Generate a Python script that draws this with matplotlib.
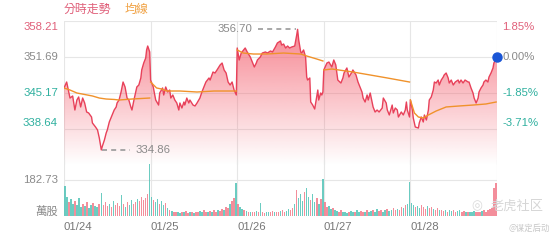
import numpy as np
import matplotlib.pyplot as plt
from matplotlib.patches import PathPatch

plt.rcParams['font.family'] = ['Liberation Sans', 'Noto Sans CJK TC']

# minutes since open and price, one pair of lists per trading day
t1 = [0, 12, 27, 39, 49, 58, 66, 75, 84, 93, 102, 111, 124, 128, 142, 151, 159, 168,
      173, 182, 190, 195, 204, 213, 217, 226, 235, 239, 248, 257, 266, 275, 279, 284,
      292, 301, 306, 315, 323, 328, 337, 346, 350, 359, 368, 372, 377, 386]
p1 = [346.08, 347.16, 344.26, 344.63, 342.09, 343.90, 344.45, 342.64, 344.26, 343.36,
      341.73, 341.55, 340.82, 339.74, 339.01, 338.47, 337.02, 334.86, 335.57, 336.66,
      337.93, 338.47, 339.92, 340.82, 341.19, 342.09, 342.64, 343.36, 343.90, 345.35,
      347.16, 346.26, 345.35, 344.26, 343.90, 342.64, 342.09, 343.90, 345.35, 346.26,
      346.62, 347.89, 349.34, 350.60, 351.51, 352.96, 353.68, 352.60]
t2 = [0, 12, 23, 36, 41, 54, 59, 68, 77, 86, 91, 100, 109, 118, 127, 132, 141, 150, 154,
      163, 172, 177, 191, 200, 209, 222, 231, 240, 249, 263, 268, 281, 290, 299, 313, 322,
      331, 340, 349, 358, 367, 376, 386]
p2 = [347.52, 346.26, 343.90, 342.99, 345.17, 346.08, 344.81, 346.26, 345.35, 345.71,
      344.26, 344.81, 343.90, 343.36, 342.09, 343.36, 342.45, 343.54, 342.99, 344.26,
      343.36, 343.90, 342.99, 342.82, 343.36, 344.26, 345.35, 346.26, 347.16, 347.89,
      347.52, 348.97, 348.79, 349.34, 350.24, 350.60, 349.34, 348.79, 347.16, 346.62,
      347.16, 345.71, 344.81]
t3 = [0, 9, 18, 36, 45, 59, 68, 77, 86, 91, 104, 113, 127, 136, 150, 159, 172, 181, 195,
      200, 209, 218, 227, 236, 245, 259, 268, 272, 277, 286, 290, 299, 308, 313, 317, 327,
      331, 340, 349, 358, 363, 367, 376, 381, 386]
p3 = [353.32, 351.15, 352.41, 353.32, 352.60, 351.69, 350.78, 349.88, 350.60, 351.15,
      351.69, 352.41, 352.60, 352.41, 352.78, 352.60, 353.50, 354.23, 354.59, 353.86,
      354.04, 353.32, 353.68, 353.32, 353.50, 353.68, 355.67, 356.70, 354.77, 352.60,
      352.41, 352.96, 351.69, 348.07, 347.52, 347.89, 343.54, 342.99, 342.27, 344.45,
      345.71, 343.90, 345.17, 344.81, 345.35]
t4 = [0, 14, 23, 36, 45, 54, 63, 77, 86, 91, 104, 113, 127, 131, 145, 154, 163, 172, 177,
      186, 195, 200, 209, 218, 222, 231, 240, 249, 263, 268, 281, 286, 295, 308, 313, 322,
      331, 336, 349, 358, 367, 372, 376, 386]
p4 = [349.34, 350.60, 350.78, 349.88, 351.15, 350.24, 347.52, 346.98, 347.89, 348.79,
      349.70, 348.07, 348.97, 349.34, 348.43, 347.16, 346.26, 345.35, 344.26, 343.54,
      344.81, 343.90, 345.17, 343.36, 342.64, 341.73, 342.09, 341.73, 342.45, 344.26,
      343.36, 342.09, 341.19, 342.99, 341.55, 342.45, 342.09, 340.82, 341.73, 341.19,
      342.09, 343.54, 342.09, 340.82]
t5 = [0, 9, 13, 22, 36, 40, 49, 58, 63, 72, 81, 85, 94, 103, 108, 116, 125, 130, 139, 148,
      152, 161, 170, 175, 184, 193, 202, 215, 220, 228, 237, 246, 260, 264, 273, 282, 287,
      296, 305, 309, 318, 327, 331, 340, 349, 354, 363, 372, 376, 390]
p5 = [343.90, 342.09, 340.64, 339.01, 338.83, 339.74, 340.82, 339.92, 341.19, 340.28,
      342.09, 343.90, 344.45, 345.71, 347.16, 346.98, 347.52, 346.62, 347.52, 348.07,
      348.43, 348.79, 347.89, 346.98, 347.52, 346.62, 347.16, 347.52, 346.98, 347.52,
      346.98, 347.52, 347.16, 347.16, 346.08, 345.17, 344.26, 343.36, 344.26, 345.35,
      346.08, 346.62, 347.16, 347.52, 347.16, 348.07, 348.79, 349.70, 350.60, 351.69]

# average price line per day
at1 = [0, 27, 58, 93, 128, 159, 190, 226, 248, 306, 346, 386]
ap1 = [346.08, 345.71, 345.17, 344.90, 344.63, 344.26, 344.08, 344.00, 343.90, 344.08, 344.17, 344.26]
at2 = [0, 27, 50, 73, 132, 209, 286, 386]
ap2 = [347.16, 346.08, 345.89, 345.53, 345.53, 345.35, 345.53, 345.53]
at3 = [0, 27, 73, 132, 209, 286, 313, 358, 386]
ap3 = [352.96, 352.41, 352.23, 352.23, 352.41, 352.23, 351.87, 351.33, 350.97]
at4 = [0, 36, 131, 209, 286, 386]
ap4 = [349.34, 349.52, 348.97, 348.43, 347.89, 347.16]
at5 = [0, 18, 36, 58, 81, 116, 161, 220, 282, 340, 386]
ap5 = [343.90, 341.55, 340.82, 340.64, 341.19, 341.91, 342.64, 342.82, 342.99, 343.18, 343.54]

# volume (萬股), 43 bars per day, u = up bar, d = down bar
v1 = [150, 95, 70, 85, 60, 75, 55, 90, 45, 60, 50, 70, 40, 55, 65, 50, 45, 60, 115, 55, 70, 50,
      60, 45, 75, 55, 65, 50, 105, 60, 45, 70, 55, 80, 60, 70, 85, 75, 95, 80, 90, 110, 265]
v2 = [95, 80, 70, 85, 60, 75, 55, 65, 40, 30, 25, 20, 18, 22, 15, 20, 18, 25, 15, 18, 22, 15,
      20, 18, 25, 20, 30, 22, 18, 25, 20, 28, 22, 30, 25, 35, 30, 45, 40, 60, 75, 90, 168]
v3 = [60, 45, 35, 30, 25, 20, 18, 22, 20, 25, 18, 66, 20, 15, 18, 22, 20, 25, 18, 20, 22, 25,
      30, 20, 25, 35, 30, 40, 60, 130, 90, 110, 75, 120, 142, 95, 80, 110, 70, 90, 60, 85, 188]
v4 = [70, 45, 50, 35, 40, 30, 25, 20, 28, 18, 22, 15, 20, 25, 18, 22, 30, 20, 25, 18, 22, 28,
      20, 25, 30, 22, 35, 25, 30, 22, 28, 35, 25, 30, 40, 28, 35, 30, 45, 40, 55, 60, 172]
v5 = [65, 55, 45, 50, 40, 55, 45, 35, 50, 40, 45, 35, 30, 40, 28, 32, 25, 30, 22, 28, 25, 30,
      22, 25, 28, 20, 25, 22, 18, 22, 20, 25, 18, 22, 20, 25, 30, 22, 28, 35, 40, 140, 168]
s1 = "dduddudddu" "dudduddudu" "uududuuudu" "dudduuduuu" "uud"
s2 = "dudduddudu" "duudduduud" "uduudduudu" "duuduuduud" "uud"
s3 = "uddududuud" "uduudduudu" "uduudduudu" "dddudduddu" "dud"
s4 = "uuddudduud" "dduddudduu" "duddudduud" "dudduuduud" "udd"
s5 = "ddudduuudu" "uduuduudud" "duudduudud" "dduuuduuuu" "uuu"

dates = ['01/24', '01/25', '01/26', '01/27', '01/28']
base = 351.69
levels = [358.21, 351.69, 345.17, 338.64]
vol_level = 182.73

RED = '#e8415a'
ORANGE = '#f0922b'
TEAL = '#2fb09f'
GRAY = '#8a8a8a'
GRID = '#e6e6e6'

days_t = [t1, t2, t3, t4, t5]
days_p = [p1, p2, p3, p4, p5]
x = np.concatenate([d + np.array(t) / 390 for d, t in enumerate(days_t)])
price = np.concatenate(days_p)

fig = plt.figure(figsize=(5.6, 2.4), dpi=100)
ax = fig.add_axes([64 / 560, 1 - 165 / 240, 433 / 560, 144 / 240])
vax = fig.add_axes([64 / 560, 0.1, 433 / 560, 56 / 240])
ybot = 332.13
for a in (ax, vax):
    a.set_xlim(0, 5)
    a.patch.set_alpha(0)
    for s in a.spines.values():
        s.set_visible(False)
    a.set_xticks([])
    a.set_yticks([])
    for d in range(6):
        a.axvline(d, color=GRID, lw=0.8, zorder=0)

ax.set_ylim(ybot, levels[0])
for lv in levels:
    ax.axhline(lv, color=GRID, lw=0.8, zorder=0)

# gradient fill under the price line
fill = ax.fill_between(x, price, ybot, color='none')
patch = PathPatch(fill.get_paths()[0], transform=ax.transData, fc='none', ec='none')
ax.add_patch(patch)
grad = np.zeros((100, 1, 4))
grad[:, 0, :3] = np.array([244, 96, 111]) / 255
grad[:, 0, 3] = np.linspace(0.8, 0.0, 100)
im = ax.imshow(grad, extent=[0, 5, ybot, levels[0]], aspect='auto', zorder=1)
im.set_clip_path(patch)

ax.plot(x, price, color=RED, lw=1.0, zorder=3)
for d, (at, ap) in enumerate(zip([at1, at2, at3, at4, at5], [ap1, ap2, ap3, ap4, ap5])):
    ax.plot(d + np.array(at) / 390, ap, color=ORANGE, lw=1.0, zorder=4)
ax.plot(x[-1], price[-1], 'o', color='#1a56d6', ms=6.5, zorder=5, clip_on=False)

# high / low markers
imax, imin = np.argmax(price), np.argmin(price)
ax.plot([x[imax] - 0.46, x[imax] - 0.02], [price[imax]] * 2, color='#999999', lw=1.2,
        dashes=(3, 2.5), zorder=4)
ax.text(x[imax] - 0.52, price[imax], f'{price[imax]:.2f}', ha='right', va='center',
        color=GRAY, fontsize=8.2)
ax.plot([x[imin] + 0.01, x[imin] + 0.33], [price[imin]] * 2, color='#999999', lw=1.2,
        dashes=(3, 2.5), zorder=4)
ax.text(x[imin] + 0.39, price[imin], f'{price[imin]:.2f}', ha='left', va='center',
        color=GRAY, fontsize=8.2)

# axis labels
lcolors = ['#e0607a', GRAY, TEAL, TEAL]
dys = [-6, 0, 0, 6]
for lv, c, dy in zip(levels, lcolors, dys):
    pct = (lv / base - 1) * 100
    ax.annotate(f'{lv:.2f}', xy=(0, lv), xycoords=('axes fraction', 'data'), xytext=(-6, dy),
                textcoords='offset pixels', ha='right', va='center', color=c, fontsize=8.2)
    ax.annotate(f'{pct:.2f}%', xy=(1, lv), xycoords=('axes fraction', 'data'), xytext=(5, dy),
                textcoords='offset pixels', ha='left', va='center', color=c, fontsize=8.2)

# volume bars
vmax = vol_level * 56 / 36
vax.set_ylim(0, vmax)
vax.axhline(vol_level, color=GRID, lw=0.8, zorder=0)
for d, (v, s) in enumerate(zip([v1, v2, v3, v4, v5], [s1, s2, s3, s4, s5])):
    n = len(v)
    bx = d + (np.arange(n) + 0.5) / n
    cols = ['#f27a8a' if c == 'u' else '#52c3b7' for c in s]
    vax.bar(bx, v, width=0.75 / n, color=cols, alpha=0.85, lw=0, zorder=2)

vax.annotate(f'{vol_level:.2f}', xy=(0, vol_level), xycoords=('axes fraction', 'data'),
             xytext=(-6, 0), textcoords='offset pixels', ha='right', va='center',
             color=GRAY, fontsize=8.2)
vax.annotate('萬股', xy=(0, 0), xycoords=('axes fraction', 'data'), xytext=(-6, 5),
             textcoords='offset pixels', ha='right', va='center', color=GRAY, fontsize=8.2)
for d, lab in enumerate(dates):
    vax.annotate(lab, xy=(d, 0), xycoords=('data', 'axes fraction'), xytext=(0, -11),
                 textcoords='offset pixels', ha='left', va='center', color='#777777',
                 fontsize=8.2)

fig.text(64 / 560, 1 - 10 / 240, '分時走勢', ha='left', va='center', color='#e0607a',
         fontsize=8.6)
fig.text(125 / 560, 1 - 10 / 240, '均線', ha='left', va='center', color='#f0a040',
         fontsize=8.6)

# watermark
fig.text(477 / 560, 1 - 206 / 240, '◎', ha='center', va='center', color='#dadada',
         fontsize=9, family=['DejaVu Sans'])
fig.text(544 / 560, 1 - 206 / 240, '老虎社区', ha='right', va='center', color='#d6d6d6',
         fontsize=9.5, family=['Noto Sans CJK SC'])
fig.text(550 / 560, 1 - 228 / 240, '@谋定后动', ha='right', va='center', color='#c8c8c8',
         fontsize=6, family=['Noto Sans CJK SC'])

fig.savefig('out.png', dpi=100)
